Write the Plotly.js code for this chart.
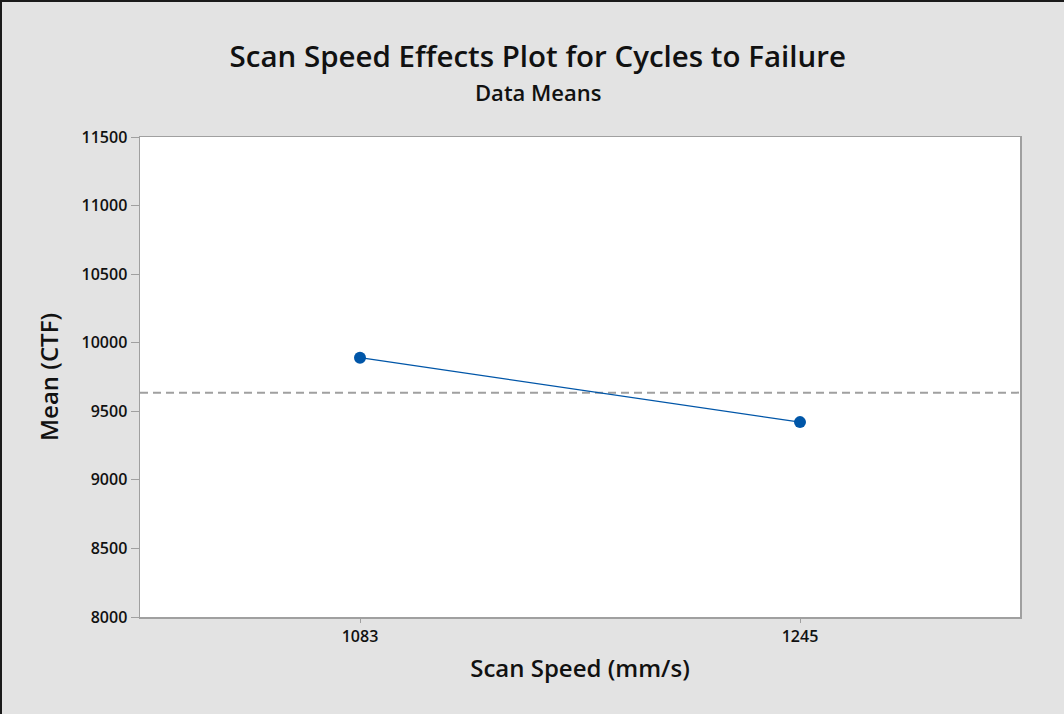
<!DOCTYPE html>
<html>
<head>
<meta charset="utf-8">
<script src="https://cdn.plot.ly/plotly-3.0.1.min.js"></script>
<style>
  html, body { margin: 0; padding: 0; background: #e3e3e3; }
  #wrap { width: 1062px; height: 712px; border-top: 2px solid #1a1a1a; border-left: 2px solid #1a1a1a; }
  #chart { width: 1062px; height: 712px; }
</style>
</head>
<body>
<div id="wrap"><div id="chart"></div></div>
<script>
// Data
const categories = ["1083", "1245"];
const meanCTF = [9891, 9421];
const overallMean = 9636;
const yTicks = [8000, 8500, 9000, 9500, 10000, 10500, 11000, 11500];

const FONT = "'Open Sans', 'Noto Sans', sans-serif";

const trace = {
  x: categories,
  y: meanCTF,
  type: 'scatter',
  mode: 'lines+markers',
  line: { color: '#0056a8', width: 1.3 },
  marker: { color: '#0056a8', size: 12 },
  hoverinfo: 'skip',
  showlegend: false
};

const layout = {
  width: 1062,
  height: 712,
  paper_bgcolor: '#e3e3e3',
  plot_bgcolor: '#ffffff',
  margin: { l: 138, r: 44, t: 135, b: 97 },
  font: { family: FONT, color: '#111111' },
  title: {
    text: 'Scan Speed Effects Plot for Cycles to Failure',
    font: { family: FONT, size: 29.5, weight: 600, color: '#111111' },
    x: 0.5045, xref: 'container', xanchor: 'center',
    y: 1 - 55 / 712, yref: 'container', yanchor: 'middle'
  },
  annotations: [{
    text: 'Data Means',
    xref: 'paper', yref: 'paper',
    x: 0.4523, y: 1 + (135 - 90) / 480,
    xanchor: 'center', yanchor: 'middle',
    showarrow: false,
    font: { family: FONT, size: 22, weight: 600, color: '#111111' }
  }],
  xaxis: {
    type: 'category',
    range: [-0.5, 1.5],
    showgrid: false,
    zeroline: false,
    showline: true,
    linecolor: '#a0a0a0',
    linewidth: 1.5,
    mirror: true,
    ticks: 'outside',
    ticklen: 4,
    tickcolor: '#a0a0a0',
    tickfont: { family: FONT, size: 16, weight: 600, color: '#111111' },
    title: {
      text: 'Scan Speed (mm/s)',
      font: { family: FONT, size: 24, weight: 600, color: '#111111' },
      standoff: 14
    }
  },
  yaxis: {
    range: [8000, 11500],
    tickvals: yTicks,
    ticktext: yTicks.map(String),
    showgrid: false,
    zeroline: false,
    showline: true,
    linecolor: '#a0a0a0',
    linewidth: 1.5,
    mirror: true,
    ticks: 'outside',
    ticklen: 8,
    tickcolor: '#a0a0a0',
    tickfont: { family: FONT, size: 16, weight: 600, color: '#111111' },
    title: {
      text: 'Mean (CTF)',
      font: { family: FONT, size: 24, weight: 600, color: '#111111' },
      standoff: 16
    }
  },
  shapes: [{
    type: 'line',
    xref: 'paper', yref: 'y',
    x0: 0, x1: 1, y0: overallMean, y1: overallMean,
    line: { color: '#a0a0a0', width: 2, dash: '8px,5px' },
    layer: 'below'
  }]
};

Plotly.newPlot('chart', [trace], layout, { displayModeBar: false, staticPlot: true });
</script>
</body>
</html>
